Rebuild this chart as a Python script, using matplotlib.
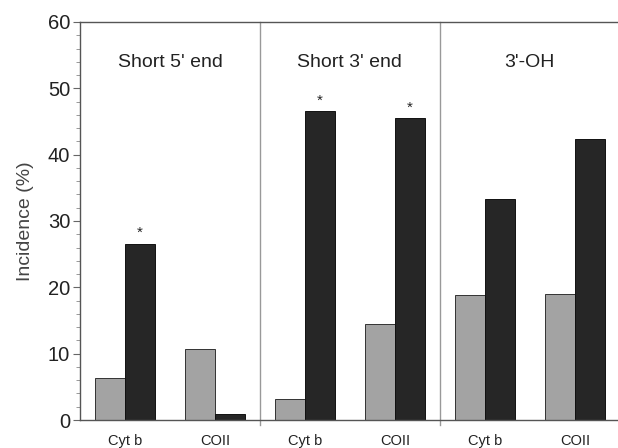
import numpy as np
import matplotlib
matplotlib.use("Agg")
import matplotlib.pyplot as plt

plt.rcParams['font.family'] = ['Liberation Sans', 'DejaVu Sans']

panels = ["Short 5' end", "Short 3' end", "3'-OH"]
genes = ["Cyt b", "COII", "Cyt b", "COII", "Cyt b", "COII"]
gray_vals = [6.4, 10.7, 3.2, 14.4, 18.8, 19.0]
black_vals = [26.6, 0.95, 46.6, 45.5, 33.3, 42.4]
significant = [True, False, True, True, False, False]

x = np.arange(len(genes))
w = 1 / 3.0
txt = '#222222'

fig = plt.figure(figsize=(6.18, 4.48), dpi=100)
ax = fig.add_axes([0.1294, 0.0625, 0.8706, 0.8884])

ax.bar(x - w / 2, gray_vals, w, color='#a3a3a3', edgecolor='#333333', linewidth=0.7)
ax.bar(x + w / 2, black_vals, w, color='#262626', edgecolor='#111111', linewidth=0.7)

for xi, v, s in zip(x, black_vals, significant):
    if s:
        ax.text(xi + w / 2, v + 0.5, '*', ha='center', va='bottom', fontsize=11, color=txt)

# panel dividers and titles
for d in [1.5, 3.5]:
    ax.plot([d, d], [-0.8, 60], color='#999999', linewidth=1.0, clip_on=False)
for i, p in enumerate(panels):
    ax.text(2 * i + 0.5, 53.9, p, ha='center', va='center', fontsize=14, color=txt)

ax.set_xlim(-0.5, 5.48)
ax.set_ylim(0, 60)
ax.set_xticks(x)
ax.set_xticklabels(genes, fontsize=10.5, color=txt)
ax.tick_params(axis='x', length=0, pad=10)
ax.set_yticks(np.arange(0, 61, 10))
ax.set_yticks(np.arange(0, 61, 2), minor=True)
ax.tick_params(axis='y', which='major', length=5, labelsize=14.5, labelcolor=txt, color='#666666', pad=2)
ax.tick_params(axis='y', which='minor', length=3, color='#888888')
ax.set_ylabel('Incidence (%)', fontsize=14, color='#444444', labelpad=10)

for s in ['left', 'bottom', 'top']:
    ax.spines[s].set_color('#555555')
    ax.spines[s].set_linewidth(1.0)
ax.spines['right'].set_visible(False)

fig.savefig('out.png', dpi=100)
